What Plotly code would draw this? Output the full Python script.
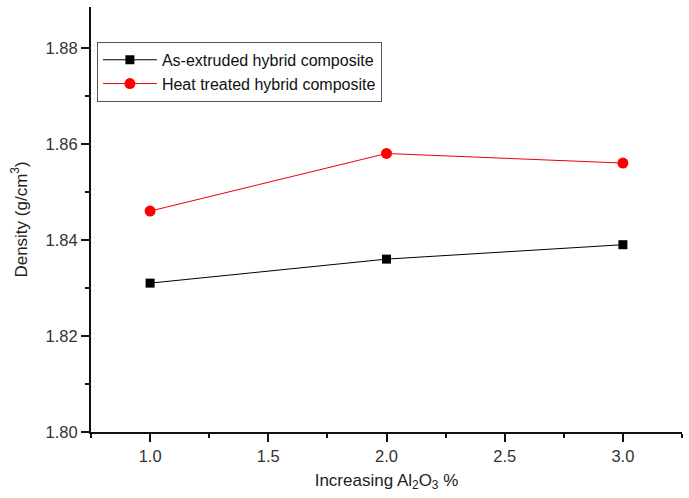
import plotly.graph_objects as go

x_vals = [1.0, 2.0, 3.0]
as_extruded = [1.831, 1.836, 1.839]
heat_treated = [1.846, 1.858, 1.856]
series_names = ["As-extruded hybrid composite", "Heat treated hybrid composite"]
x_ticks = [1.0, 1.5, 2.0, 2.5, 3.0]
x_tick_labels = ["1.0", "1.5", "2.0", "2.5", "3.0"]
y_ticks = [1.80, 1.82, 1.84, 1.86, 1.88]
y_tick_labels = ["1.80", "1.82", "1.84", "1.86", "1.88"]

fig = go.Figure()
fig.add_trace(go.Scatter(x=x_vals, y=as_extruded, name=series_names[0],
                         mode="lines+markers",
                         line=dict(color="#000000", width=1),
                         marker=dict(symbol="square", size=9, color="#000000")))
fig.add_trace(go.Scatter(x=x_vals, y=heat_treated, name=series_names[1],
                         mode="lines+markers",
                         line=dict(color="#e8000b", width=1),
                         marker=dict(symbol="circle", size=11, color="#ff0000")))

fam = "Arial, Liberation Sans, sans-serif"
fig.update_layout(
    width=689, height=498,
    margin=dict(l=91, r=7, t=7, b=66),
    paper_bgcolor="white", plot_bgcolor="white",
    font=dict(family=fam, size=16, color="#222222"),
    showlegend=True,
    legend=dict(x=0.01, y=0.918, xanchor="left", yanchor="top",
                bordercolor="#555555", borderwidth=1, bgcolor="white",
                font=dict(family=fam, size=16, color="#111111"),
                tracegroupgap=0, itemwidth=54),
    xaxis=dict(range=[0.75, 3.25], tickvals=x_ticks, ticktext=x_tick_labels,
               showgrid=False, zeroline=False, showline=True, linecolor="#111111", linewidth=2,
               ticks="outside", ticklen=8, tickwidth=2, tickcolor="#111111",
               minor=dict(dtick=0.25, tick0=0.75, ticks="outside", ticklen=4, tickwidth=2, tickcolor="#111111"),
               tickfont=dict(family=fam, size=16.5, color="#333333"),
               title=dict(text="Increasing Al<sub>2</sub>O<sub>3</sub> %", font=dict(family=fam, size=17, color="#222222"), standoff=10)),
    yaxis=dict(range=[1.80, 1.8885], tickvals=y_ticks, ticktext=y_tick_labels,
               showgrid=False, zeroline=False, showline=True, linecolor="#111111", linewidth=2,
               ticks="outside", ticklen=8, tickwidth=2, tickcolor="#111111",
               minor=dict(dtick=0.01, tick0=1.80, ticks="outside", ticklen=4, tickwidth=2, tickcolor="#111111"),
               tickfont=dict(family=fam, size=16.5, color="#333333"),
               title=dict(text="Density (g/cm<sup>3</sup>)", font=dict(family=fam, size=17, color="#222222"), standoff=14)),
)

fig.write_html("out.html")
